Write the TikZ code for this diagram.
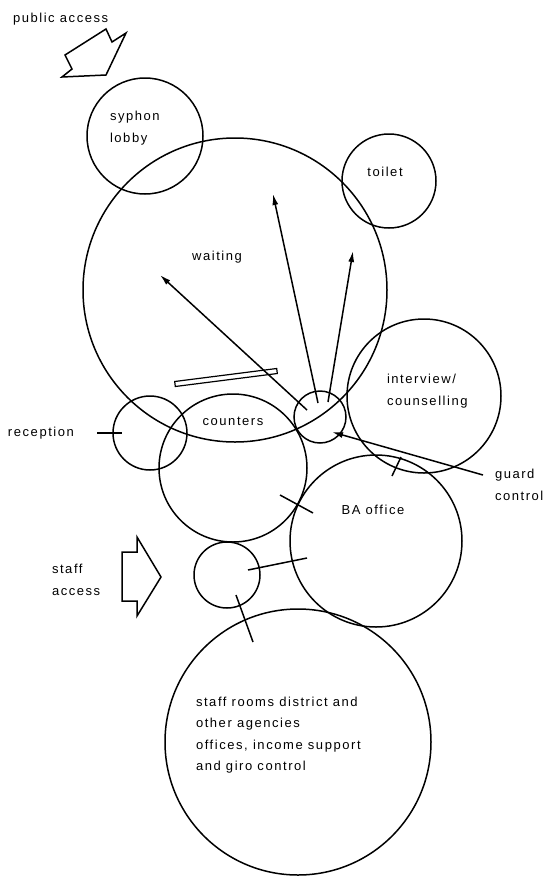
\documentclass[tikz,border=0pt]{standalone}
\usepackage{fontspec}
\setmainfont{Liberation Sans}[LetterSpace=12]
\usetikzlibrary{arrows.meta}
\begin{document}
\begin{tikzpicture}[x=1pt,y=-1pt,
  room/.style={draw, circle, line width=1.5pt, inner sep=0pt, outer sep=0pt},
  lbl/.style={inner sep=0pt, outer sep=0pt, font=\fontsize{13pt}{21.5pt}\selectfont},
  lbll/.style={lbl, align=left, anchor=west},
  tick/.style={line width=1.5pt},
  flow/.style={line width=1.5pt, -{Latex[length=11pt,width=6pt]}},
  bigarrow/.style={draw, line width=1.5pt, line join=miter}]
\useasboundingbox (0,0) rectangle (543,876);
% rooms
\node[room, minimum size=116pt] (syphon) at (145,136) {};
\node[room, minimum size=94pt] (toilet) at (389,181) {};
\node[room, minimum size=304pt] (waiting) at (235,290) {};
\node[room, minimum size=154pt] (interview) at (424,396) {};
\node[room, minimum size=74pt] (reception) at (150,433) {};
\node[room, minimum size=148pt] (counters) at (233,468) {};
\node[room, minimum size=52pt] (guard) at (320,417) {};
\node[room, minimum size=172pt] (ba) at (376,541) {};
\node[room, minimum size=66pt] (staffsmall) at (227,575) {};
\node[room, minimum size=266pt] (staffrooms) at (298,742) {};
% labels
\node[lbll] (tpublic) at (13,19) {public access};
\node[lbll] (tsyphon) at (110,128) {syphon\\lobby};
\node[lbl] (ttoilet) at (385,172) {toilet};
\node[lbl] (twaiting) at (217,257) {waiting};
\node[lbll] (tinterview) at (387,391) {interview/\\counselling};
\node[lbl] (tcounters) at (233,421) {counters};
\node[lbll] (treception) at (8,433) {reception};
\node[lbll] (tguard) at (495,485) {guard\\control};
\node[lbl] (tba) at (373,510) {BA office};
\node[lbll] (tstaff) at (52,580) {staff\\access};
\node[lbll] (tstaffrooms) at (196,735) {staff rooms district and\\other agencies\\offices, income support\\and giro control};
% access arrows
\draw[bigarrow] (62,77) -- (72,69) -- (65,55) -- (106,29) -- (112,42) -- (126,33) -- (106,75) -- cycle;
\draw[bigarrow] (122,552) -- (137,552) -- (137,537) -- (161,577) -- (137,616) -- (137,601) -- (122,601) -- cycle;
% counter screen
\draw[line width=1.2pt] (175.3,386.5) -- (277.3,373.5) -- (276.7,368.5) -- (174.7,381.5) -- cycle;
% flow arrows
\coordinate (a1s) at (307,410); \coordinate (a1e) at (160,275);
\coordinate (a2s) at (318,403); \coordinate (a2e) at (273,194);
\coordinate (a3s) at (328,402); \coordinate (a3e) at (353,251);
\coordinate (g1s) at (483,475); \coordinate (g1e) at (332,432);
\draw[flow] (a1s) -- (a1e);
\draw[flow] (a2s) -- (a2e);
\draw[flow] (a3s) -- (a3e);
\draw[flow] (g1s) -- (g1e);
% ticks
\coordinate (r1) at (97,433); \coordinate (r2) at (122,433);
\coordinate (b1) at (280,495); \coordinate (b2) at (313,513);
\coordinate (i1) at (392,476); \coordinate (i2) at (401,457);
\coordinate (s1) at (248,570); \coordinate (s2) at (307,558);
\coordinate (s3) at (236,595); \coordinate (s4) at (253,642);
\draw[tick] (r1) -- (r2);
\draw[tick] (b1) -- (b2);
\draw[tick] (i1) -- (i2);
\draw[tick] (s1) -- (s2);
\draw[tick] (s3) -- (s4);
\end{tikzpicture}
\end{document}
